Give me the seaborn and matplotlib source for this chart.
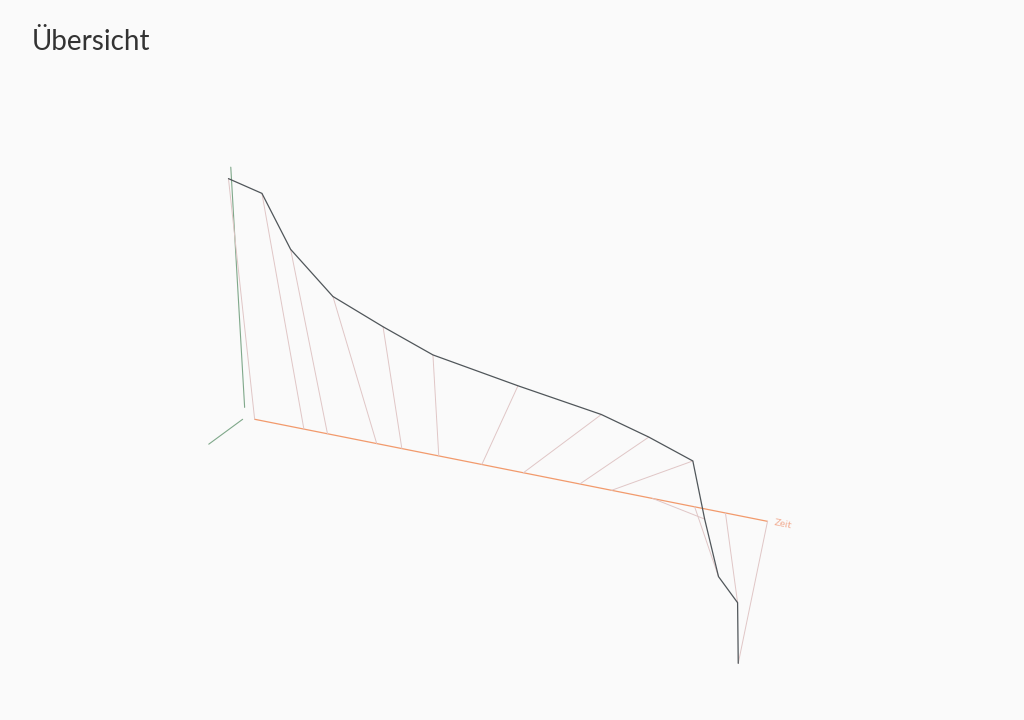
import numpy as np
import matplotlib
matplotlib.use("Agg")
import matplotlib.pyplot as plt
import seaborn as sns
from mpl_toolkits.mplot3d import proj3d

# time stamps (0..100) and the two components of the trajectory
zeit = [0, 9.6, 14.2, 23.8, 28.7, 35.9, 44.3, 52.4, 63.4, 69.6, 77.6, 85.8, 91.8, 100]
wert = [274, 281, 223, 189, 143, 111, 55, 1, -4, -32, -62, -92, -104, -127]
tiefe = [-23, -53, -49, -66, -22, 0, 76, 152, 134, 155, 95, 37, 13, -70]

sns.set_theme(style="white")
plt.rcParams["font.family"] = ["Lato", "DejaVu Sans"]

bg = "#fafafa"
orange = "#f29a6c"
green = "#7fa88a"

fig = plt.figure(figsize=(10.24, 7.2), dpi=100, facecolor=bg)
ax = fig.add_axes([0.0021, -0.0461, 1, 1], projection="3d", proj_type="ortho", facecolor=bg)

t0 = -1.84
ax.set_xlim(t0, 100)
ax.set_ylim(-71, 155)
ax.set_zlim(-127, 281)
ax.set_box_aspect(((100 - t0) * 5.99, 226, 408), zoom=1.035)
ax.view_init(elev=24.25, azim=-57.7, roll=3.3)
ax.set_axis_off()

# axes lines
ax.plot([0, 100], [0, 0], [0, 0], color=orange, lw=0.9)
ax.plot([t0, t0], [0, 0], [11, 275], color=green, lw=0.8)
ax.plot([t0, t0], [-5, -71], [0, 0], color=green, lw=0.8)

# drop lines from the time axis to each point
for t, v, w in zip(zeit, wert, tiefe):
    ax.plot([t, t], [0, w], [0, v], color="#e0c6c6", lw=0.7)

ax.plot(zeit, tiefe, wert, color="#50565a", lw=0.9)

fig.text(0.031, 0.9306, "Übersicht", fontsize=20, color="#333333")

# axis label "Zeit", placed along the projected time axis
fig.canvas.draw()
proj = ax.get_proj()

def screen(x, y, z):
    xs, ys, _ = proj3d.proj_transform(x, y, z, proj)
    return float(xs), float(ys)

pts = ax.transData.transform([screen(0, 0, 0), screen(100, 0, 0)])
angle = np.degrees(np.arctan2(pts[1, 1] - pts[0, 1], pts[1, 0] - pts[0, 0]))
lx, ly = screen(101.4, 0, 0)
ax.text2D(lx, ly, "Zeit", transform=ax.transData, rotation=angle,
          rotation_mode="anchor", va="center", ha="left", color="#f2ad93", fontsize=7.5)

fig.savefig("out.png", dpi=100, facecolor=bg)
